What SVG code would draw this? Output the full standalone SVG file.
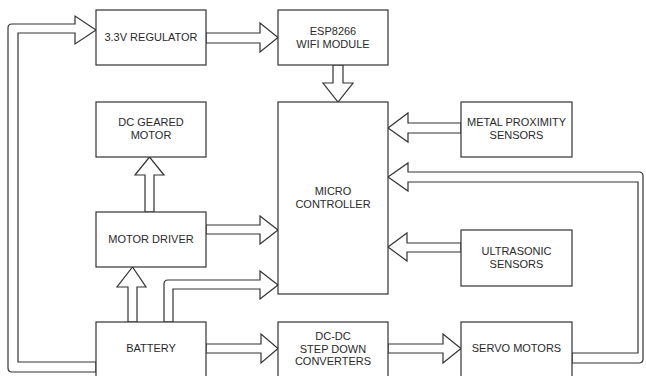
<svg xmlns="http://www.w3.org/2000/svg" width="646" height="376" viewBox="0 0 646 376">
<style>
.box{fill:#fff;stroke:#333;stroke-width:1.2}
.arr{fill:#fff;stroke:#333;stroke-width:1.2;stroke-linejoin:miter}
.t{font-family:"Liberation Sans",Arial,sans-serif;font-size:11px;fill:#2a2a2a;text-anchor:middle}
</style>
<rect width="646" height="376" fill="#fff"/>
<g id="connectors">
<path class="arr" d="M96,372 L12,372 Q8,372 8,368 L8,28 Q8,24 12,24 L75,24 L75,16 L96,30 L75,44 L75,33 L18,33 L18,362 L96,362 Z"/>
<path class="arr" d="M206,33 L260,33 L260,23 L278,37.5 L260,52 L260,43 L206,43 Z"/>
<path class="arr" d="M333,65 L333,83 L323,83 L338,102 L353,83 L343,83 L343,65 Z"/>
<path class="arr" d="M461,123 L408,123 L408,113 L388,128 L408,142 L408,133 L461,133 Z"/>
<path class="arr" d="M572,353 L638,353 L638,182 L408,182 L408,191 L388,177 L408,163 L408,172 L639,172 Q643,172 643,176 L643,359 Q643,363 639,363 L572,363 Z"/>
<path class="arr" d="M461,243 L407,243 L407,233 L388,247 L407,261 L407,252 L461,252 Z"/>
<path class="arr" d="M145,212 L145,175 L135,175 L149.5,157 L164,175 L154,175 L154,212 Z"/>
<path class="arr" d="M206,225 L260,225 L260,216 L278,230 L260,244 L260,234 L206,234 Z"/>
<path class="arr" d="M128,322 L128,287 L117,287 L132.5,267 L146,287 L137,287 L137,322 Z"/>
<path class="arr" d="M164,322 L164,284 Q164,280 168,280 L260,280 L260,271 L278,285 L260,299 L260,289 L173,289 L173,322 Z"/>
<path class="arr" d="M206,344 L261,344 L261,334 L278,348.5 L261,363 L261,353 L206,353 Z"/>
<path class="arr" d="M388,344 L443,344 L443,334 L461,348.5 L443,363 L443,353 L388,353 Z"/>
</g>
<g id="regulator"><rect class="box" x="96" y="10" width="110" height="55"/><text class="t" x="151" y="41">3.3V REGULATOR</text></g>
<g id="esp8266"><rect class="box" x="278" y="10" width="110" height="55"/><text class="t" x="333" y="35">ESP8266</text><text class="t" x="333" y="47.5">WIFI MODULE</text></g>
<g id="dcmotor"><rect class="box" x="96" y="102" width="110" height="55"/><text class="t" x="151" y="126">DC GEARED</text><text class="t" x="151" y="138.5">MOTOR</text></g>
<g id="microcontroller"><rect class="box" x="278" y="102" width="110" height="192"/><text class="t" x="333" y="195">MICRO</text><text class="t" x="333" y="207.5">CONTROLLER</text></g>
<g id="metal"><rect class="box" x="461" y="102" width="111" height="55"/><text class="t" x="516.5" y="126">METAL PROXIMITY</text><text class="t" x="516.5" y="138.5">SENSORS</text></g>
<g id="motordriver"><rect class="box" x="96" y="212" width="110" height="55"/><text class="t" x="151" y="243">MOTOR DRIVER</text></g>
<g id="ultrasonic"><rect class="box" x="461" y="230" width="111" height="56"/><text class="t" x="516.5" y="255">ULTRASONIC</text><text class="t" x="516.5" y="267.5">SENSORS</text></g>
<g id="battery"><rect class="box" x="96" y="322" width="110" height="56"/><text class="t" x="151" y="352">BATTERY</text></g>
<g id="dcdc"><rect class="box" x="278" y="322" width="110" height="56"/><text class="t" x="333" y="340">DC-DC</text><text class="t" x="333" y="352.5">STEP DOWN</text><text class="t" x="333" y="365">CONVERTERS</text></g>
<g id="servo"><rect class="box" x="461" y="322" width="111" height="56"/><text class="t" x="516.5" y="352">SERVO MOTORS</text></g>
</svg>
